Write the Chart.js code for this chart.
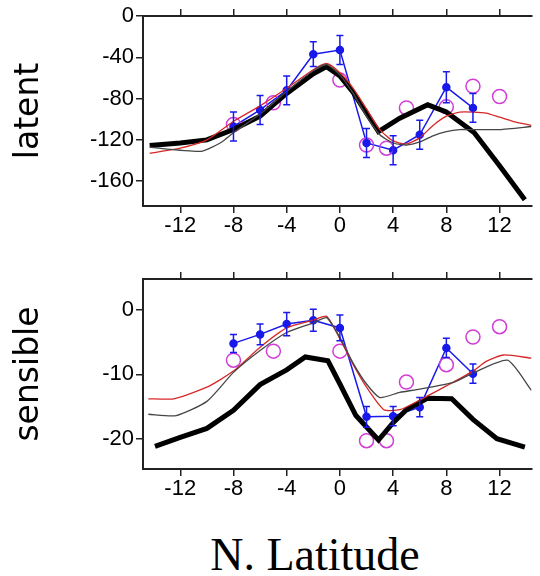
<!DOCTYPE html>
<html>
<head>
<meta charset="utf-8">
<script src="https://cdn.jsdelivr.net/npm/chart.js@4"></script>
<style>
  html, body { margin: 0; padding: 0; background: #fff; overflow: hidden; }
  #wrap { position: relative; width: 540px; height: 576px; }
  #topBox { position: absolute; left: 0; top: 0; width: 540px; height: 250px; }
  #botBox { position: absolute; left: 0; top: 250px; width: 540px; height: 270px; }
  #xTitle { position: absolute; left: 0; width: 630px; top: 528px; text-align: center;
            font-family: 'Liberation Serif', 'Times New Roman', serif; font-size: 46px; color: #000; }
</style>
</head>
<body>
<div id="wrap">
  <div id="topBox"><canvas id="latentChart"></canvas></div>
  <div id="botBox"><canvas id="sensibleChart"></canvas></div>
  <div id="xTitle">N. Latitude</div>
</div>
<script>
// tick labels
const latTicks = [-12, -8, -4, 0, 4, 8, 12];
const latentTicks = [0, -40, -80, -120, -160];
const sensibleTicks = [0, -10, -20];

// observations (blue, with error bars)
const obsLat = [-8, -6, -4, -2, 0, 2, 4, 6, 8, 10];
const latentObs = [-107, -91, -72, -37, -33, -123, -130, -115, -69, -89];
const latentObsErr = [14, 14, 14, 12, 14, 14, 14, 14, 15, 14];
const sensibleObs = [-5.2, -3.8, -2.2, -1.6, -2.8, -16.6, -16.5, -15.1, -5.9, -9.9];
const sensibleObsErr = [1.4, 1.6, 1.8, 1.7, 2.0, 1.6, 1.5, 1.5, 1.5, 1.5];

// buoy values (magenta circles)
const buoyLat = [-8, -5, 0, 2, 3.5, 5, 8, 10, 12];
const latentBuoy = [-105, -84, -62, -125, -128, -89, -88, -68, -78];
const sensibleBuoy = [-7.8, -6.4, -6.4, -20.3, -20.3, -11.2, -8.5, -4.2, -2.6];

// thick black curve
const thickLatTop = [-14.3, -12, -10, -8, -6, -4, -2, -1, 0, 1, 2, 2.9, 4.5, 6.6, 8, 10.1, 12, 13.9];
const latentThick = [-125.5, -123, -120, -110, -97, -75, -56, -49, -58, -74, -94, -112, -99, -86, -93, -113, -145, -178];
const thickLatBot = [-13.9, -12, -10, -8, -6, -4, -2.6, -0.9, 0, 1.2, 2.9, 4, 5, 6.6, 8.4, 10, 11.8, 13.9];
const sensibleThick = [-21.2, -19.8, -18.4, -15.6, -11.6, -9.3, -7.3, -7.9, -11.5, -16.4, -20.2, -17.5, -15.5, -13.7, -13.8, -17, -20, -21.3];

// thin black curve
const thinLatTop = [-14.3, -13, -12, -10.4, -9, -8, -6, -4, -2, -1, 0, 1, 2, 3, 4, 5, 6, 7, 8, 9, 10, 12, 14.4];
const latentThin = [-127, -129, -130, -131, -123, -113, -95, -73, -53, -47, -57, -75, -97, -115, -123, -125, -122, -116, -112, -110, -110, -110, -107];
const thinLatBot = [-14.4, -12.3, -10, -8, -6, -4, -2, -1, 0, 1, 2, 3, 4.5, 6, 8.6, 10, 12.6, 14.4];
const sensibleThin = [-16.2, -16.4, -14.2, -9.7, -6.3, -3.5, -2, -1.2, -4.3, -8.3, -11.5, -13.6, -12.8, -12.3, -11.2, -9.8, -7.8, -12.5];

// red curve
const redLatTop = [-14.3, -12, -10, -8, -6, -4, -2, -1, 0, 1, 2, 3, 4, 5, 6, 7, 8, 9, 10, 11, 12, 13, 14.4];
const latentRed = [-133, -128, -120, -102, -87, -70, -52, -46, -55, -70, -90, -110, -121, -124, -118, -106, -97, -93, -93, -94, -98, -102, -106];
const redLatBot = [-14.4, -12.5, -10, -8, -6, -4, -2, -1, 0, 1, 2, 3.3, 4.5, 6, 8, 10, 11, 12.3, 14.4];
const sensibleRed = [-13.8, -13.8, -12, -9.5, -5.8, -2.8, -1.6, -1, -4.5, -8.5, -12, -15.5, -15.5, -14, -11.8, -9.5, -8, -7, -7.5];

const pts = (xs, ys) => xs.map((x, i) => ({ x: x, y: ys[i] }));

const errorBars = {
    id: 'errorBars',
    afterDatasetsDraw(chart, args, opts) {
        const meta = chart.getDatasetMeta(opts.index);
        const yScale = chart.scales.y;
        const ctx = chart.ctx;
        ctx.save();
        ctx.strokeStyle = opts.color;
        ctx.lineWidth = 1.5;
        meta.data.forEach((p, i) => {
            const v = opts.values[i];
            const e = opts.errors[i];
            const y1 = yScale.getPixelForValue(v + e);
            const y2 = yScale.getPixelForValue(v - e);
            ctx.beginPath();
            ctx.moveTo(p.x, y1); ctx.lineTo(p.x, y2);
            ctx.moveTo(p.x - 3.5, y1); ctx.lineTo(p.x + 3.5, y1);
            ctx.moveTo(p.x - 3.5, y2); ctx.lineTo(p.x + 3.5, y2);
            ctx.stroke();
        });
        ctx.restore();
    }
};

const tickFont = { family: "'Liberation Sans', Arial, sans-serif", size: 22 };
const axisColor = '#222';

function makeChart(canvasId, d, yMin, yMax, yTicks, yTitle, topH, bottomH) {
    const datasets = [
        { data: pts(d.thinX, d.thin), showLine: true, borderColor: 'rgb(70, 70, 70)', borderWidth: 1.3, pointRadius: 0, tension: 0.2 },
        { data: pts(d.redX, d.red), showLine: true, borderColor: 'rgb(215, 40, 40)', borderWidth: 1.3, pointRadius: 0, tension: 0.2 },
        { data: pts(d.thickX, d.thick), showLine: true, borderColor: '#000', borderWidth: 5, pointRadius: 0, tension: 0 },
        { data: pts(buoyLat, d.buoy), showLine: false, borderColor: 'rgb(210, 60, 215)', backgroundColor: 'rgba(0,0,0,0)', borderWidth: 1.5, pointRadius: 7 },
        { data: pts(obsLat, d.obs), showLine: true, borderColor: 'rgb(25, 25, 235)', backgroundColor: 'rgb(25, 25, 235)', borderWidth: 1.5, pointRadius: 3.5, tension: 0 }
    ];
    const gridOpts = { drawOnChartArea: false, drawTicks: true, tickLength: 7, color: axisColor, lineWidth: 1.5 };
    return new Chart(document.getElementById(canvasId).getContext('2d'), {
        type: 'scatter',
        data: { datasets: datasets },
        options: {
            responsive: true,
            maintainAspectRatio: false,
            animation: false,
            layout: { padding: 0 },
            plugins: {
                legend: { display: false },
                tooltip: { enabled: false },
                errorBars: { index: 4, values: d.obs, errors: d.err, color: 'rgb(25, 25, 235)' }
            },
            scales: {
                x: {
                    type: 'linear', position: 'bottom', min: -14.8, max: 14.4,
                    afterBuildTicks: (a) => { a.ticks = latTicks.map(v => ({ value: v })); },
                    afterFit: (a) => { a.height = bottomH; },
                    grid: gridOpts,
                    border: { color: axisColor, width: 2 },
                    ticks: { font: tickFont, color: '#000', padding: 0, maxRotation: 0 }
                },
                x2: {
                    type: 'linear', axis: 'x', position: 'top', min: -14.8, max: 14.4,
                    afterBuildTicks: (a) => { a.ticks = latTicks.map(v => ({ value: v })); },
                    afterFit: (a) => { a.height = topH; },
                    grid: gridOpts,
                    border: { color: axisColor, width: 2 },
                    ticks: { display: false }
                },
                y: {
                    type: 'linear', position: 'left', min: yMin, max: yMax,
                    afterBuildTicks: (a) => { a.ticks = yTicks.map(v => ({ value: v })); },
                    afterFit: (a) => { a.width = 143; },
                    grid: gridOpts,
                    border: { color: axisColor, width: 2 },
                    ticks: { font: tickFont, color: '#000', padding: 2 },
                    title: {
                        display: true, text: yTitle, color: '#000',
                        font: { family: "'DejaVu Sans', sans-serif", size: 33 },
                        padding: { top: 10, bottom: 0 }
                    }
                }
            }
        },
        plugins: [errorBars]
    });
}

makeChart('latentChart', {
    thinX: thinLatTop, thin: latentThin,
    redX: redLatTop, red: latentRed,
    thickX: thickLatTop, thick: latentThick,
    buoy: latentBuoy, obs: latentObs, err: latentObsErr
}, -184, 0, latentTicks, 'latent', 16, 44);

makeChart('sensibleChart', {
    thinX: thinLatBot, thin: sensibleThin,
    redX: redLatBot, red: sensibleRed,
    thickX: thickLatBot, thick: sensibleThick,
    buoy: sensibleBuoy, obs: sensibleObs, err: sensibleObsErr
}, -24.7, 4.8, sensibleTicks, 'sensible', 29, 51);
</script>
</body>
</html>
